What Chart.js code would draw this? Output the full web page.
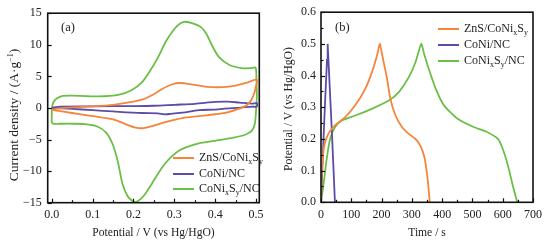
<!DOCTYPE html>
<html>
<head>
<meta charset="utf-8">
<script src="https://cdn.jsdelivr.net/npm/chart.js@4.4.0/dist/chart.umd.min.js"></script>
<style>
  html, body { margin: 0; padding: 0; background: #fff; }
  #wrap { position: relative; width: 549px; height: 244px; font-family: "Liberation Serif", "Times New Roman", serif; color: #222; }
  canvas { position: absolute; top: 0; }
  .row { position: absolute; white-space: nowrap; height: 14px; line-height: 14px; font-size: 12px; }
  .row i { display: inline-block; width: 21px; height: 2px; vertical-align: middle; margin-right: 5px; }
  .row sub { font-size: 8px; vertical-align: -3px; line-height: 0; }
  .panel { position: absolute; font-size: 12.5px; }
  .ytitle { position: absolute; white-space: nowrap; transform: translate(-50%, -50%) rotate(-90deg); line-height: 1; }
  .ytitle sup { font-size: 8px; vertical-align: 5px; line-height: 0; }
</style>
</head>
<body>
<div id="wrap">
  <canvas id="cv-chart" width="275" height="244" style="left:0"></canvas>
  <canvas id="gcd-chart" width="274" height="244" style="left:275px"></canvas>
  <div class="ytitle" style="left:14px;top:115px;font-size:13.5px">Current density / (A·g<sup>−1</sup>)</div>
  <div class="ytitle" style="left:289px;top:109px;font-size:11.8px">Potential / V (vs Hg/HgO)</div>
  <div class="panel" style="left:61px;top:20px">(a)</div>
  <div class="panel" style="left:335px;top:20px">(b)</div>
  <div class="row" style="left:173px;top:150px"><i style="background:#f5853b"></i>ZnS/CoNi<sub>x</sub>S<sub>y</sub></div>
  <div class="row" style="left:173px;top:166px"><i style="background:#5b4ca8"></i>CoNi/NC</div>
  <div class="row" style="left:173px;top:181px"><i style="background:#6cbf46"></i>CoNi<sub>x</sub>S<sub>y</sub>/NC</div>
  <div class="row" style="left:438px;top:21px"><i style="background:#f5853b"></i>ZnS/CoNi<sub>x</sub>S<sub>y</sub></div>
  <div class="row" style="left:438px;top:37px"><i style="background:#5b4ca8"></i>CoNi/NC</div>
  <div class="row" style="left:438px;top:53px"><i style="background:#6cbf46"></i>CoNi<sub>x</sub>S<sub>y</sub>/NC</div>
</div>
<script>
// (a) CV curves: potential (V) / current density (A/g), each a closed loop
const cvZnsV = [0.0, 0.02, 0.05, 0.1, 0.15, 0.2, 0.225, 0.245, 0.27, 0.295, 0.315, 0.345, 0.38, 0.42, 0.45, 0.48, 0.502,
  0.499, 0.495, 0.488, 0.476, 0.455, 0.43, 0.40, 0.36, 0.32, 0.28, 0.25, 0.225, 0.205, 0.182, 0.15, 0.1, 0.05, 0.0];
const cvZnsI = [-0.3, -0.05, 0.1, 0.25, 0.5, 1.0, 1.4, 2.0, 3.0, 3.75, 3.95, 3.7, 3.35, 3.3, 3.55, 4.05, 4.5,
  3.2, 2.2, 1.2, 0.4, -0.2, -0.7, -1.0, -1.3, -1.6, -2.2, -2.8, -3.2, -3.1, -2.6, -1.8, -1.3, -0.8, -0.3];

const cvCoNiV = [0.0, 0.02, 0.1, 0.2, 0.25, 0.3, 0.35, 0.4, 0.43, 0.46, 0.49, 0.502, 0.503, 0.501,
  0.49, 0.45, 0.40, 0.36, 0.32, 0.29, 0.275, 0.26, 0.22, 0.15, 0.1, 0.05, 0.0];
const cvCoNiI = [0.0, 0.2, 0.25, 0.3, 0.35, 0.5, 0.65, 0.95, 1.0, 0.85, 0.7, 0.75, 0.5, 0.2,
  0.2, 0.0, -0.25, -0.35, -0.75, -0.95, -1.0, -0.85, -0.8, -0.55, -0.35, -0.15, 0.0];

const cvCoNiSV = [0.0, 0.004, 0.012, 0.027, 0.05, 0.09, 0.13, 0.165, 0.195, 0.22, 0.24, 0.26, 0.28, 0.30, 0.315, 0.328,
  0.345, 0.365, 0.378, 0.393, 0.41, 0.435, 0.465, 0.49, 0.499, 0.501, 0.502, 0.500, 0.497, 0.49, 0.475, 0.445, 0.40,
  0.36, 0.33, 0.31, 0.29, 0.275, 0.26, 0.245, 0.23, 0.218, 0.205, 0.195, 0.185, 0.173, 0.162, 0.15, 0.133, 0.11,
  0.08, 0.05, 0.02, 0.003, 0.0, 0.0, 0.0];
const cvCoNiSI = [0.0, 0.9, 1.5, 1.9, 1.95, 1.85, 1.85, 2.1, 2.8, 4.0, 5.8, 8.0, 10.6, 12.5, 13.4, 13.65,
  13.4, 12.8, 11.8, 9.8, 8.0, 6.8, 6.3, 6.3, 6.4, 4.5, 2.0, -0.5, -2.5, -3.6, -4.2, -4.7, -5.2,
  -5.6, -6.2, -6.8, -7.9, -9.0, -10.4, -12.0, -13.5, -14.4, -14.9, -14.6, -13.9, -12.0, -8.6, -5.9, -3.9, -2.9,
  -2.55, -2.5, -2.5, -2.5, -2.2, -1.0, 0.0];

// (b) GCD curves: time (s) / potential (V)
const gcdZnsT = [0, 2, 5, 11, 24, 46, 80, 113, 146, 168, 185, 194, 200, 207, 218, 229, 246, 268, 290, 312, 330, 342, 350, 355, 359];
const gcdZnsV = [0, 0.08, 0.13, 0.18, 0.216, 0.243, 0.269, 0.306, 0.358, 0.41, 0.463, 0.5, 0.475, 0.442, 0.39, 0.327, 0.274, 0.237, 0.216, 0.2, 0.175, 0.14, 0.09, 0.045, 0];

const gcdCoNiT = [0, 5, 10, 15, 20, 22, 24, 30, 36, 42, 46];
const gcdCoNiV = [0, 0.12, 0.24, 0.35, 0.45, 0.5, 0.46, 0.34, 0.22, 0.09, 0];

const gcdCoNiST = [0, 3, 8, 19, 30, 46, 69, 113, 168, 224, 257, 290, 312, 331, 340, 356, 379, 406, 451, 506, 550, 584, 600, 617, 633, 648];
const gcdCoNiSV = [0, 0.02, 0.054, 0.138, 0.2, 0.237, 0.258, 0.274, 0.295, 0.321, 0.348, 0.395, 0.442, 0.5, 0.47, 0.421, 0.358, 0.306, 0.264, 0.237, 0.221, 0.2, 0.169, 0.117, 0.054, 0];

const seriesNames = ['ZnS/CoNixSy', 'CoNi/NC', 'CoNixSy/NC'];
const seriesColors = ['#f5853b', '#5b4ca8', '#6cbf46'];

const pts = (xs, ys) => xs.map((x, i) => ({ x: x, y: ys[i] }));
const tickFont = { family: 'Liberation Serif', size: 12 };
const titleFont = { family: 'Liberation Serif', size: 11.6 };

// frame round the plot area and small inward ticks on bottom and left
const frameTicks = {
  id: 'frameTicks',
  afterDraw(chart, args, o) {
    const { ctx, chartArea: a, scales } = chart;
    ctx.save();
    ctx.strokeStyle = '#111';
    ctx.lineWidth = 1.2;
    const run = (scale, step, major, horiz) => {
      const first = Math.ceil(scale.min / step - 1e-9);
      const last = Math.floor(scale.max / step + 1e-9);
      for (let k = first; k <= last; k++) {
        const v = k * step;
        const isMajor = Math.abs(v / major - Math.round(v / major)) < 1e-6;
        const len = isMajor ? 4 : 2.5;
        const p = Math.round(scale.getPixelForValue(v)) + 0.5;
        ctx.beginPath();
        if (horiz) { ctx.moveTo(p, a.bottom); ctx.lineTo(p, a.bottom - len); }
        else { ctx.moveTo(a.left, p); ctx.lineTo(a.left + len, p); }
        ctx.stroke();
      }
    };
    run(scales.x, o.xStep, o.xMajor, true);
    run(scales.y, o.yStep, o.yMajor, false);
    ctx.lineWidth = 1.6;
    ctx.strokeRect(a.left, a.top, a.width, a.height);
    ctx.restore();
  }
};

function lineSet(label, data, color, tension) {
  return { label: label, data: data, borderColor: color, backgroundColor: color, borderWidth: 1.8,
    showLine: true, pointRadius: 0, fill: false, tension: tension };
}

function axis(min, max, step, fmt, title, pad, fit) {
  return {
    type: 'linear', min: min, max: max,
    grid: { display: false, drawTicks: false },
    border: { display: false },
    ticks: { stepSize: step, includeBounds: false, font: tickFont, color: '#222', padding: pad, callback: fmt },
    title: { display: !!title, text: title, font: titleFont, color: '#222', padding: 4 },
    afterFit: fit
  };
}

const fmt1 = v => v.toFixed(1);
const fmtInt = v => String(Math.round(v)).replace('-', '\u2212');

new Chart(document.getElementById('cv-chart'), {
  type: 'scatter',
  data: {
    datasets: [
      lineSet(seriesNames[0], pts(cvZnsV, cvZnsI), seriesColors[0], 0.3),
      lineSet(seriesNames[1], pts(cvCoNiV, cvCoNiI), seriesColors[1], 0.3),
      lineSet(seriesNames[2], pts(cvCoNiSV, cvCoNiSI), seriesColors[2], 0.3)
    ]
  },
  options: {
    responsive: false, animation: false, devicePixelRatio: 1,
    layout: { padding: { top: 10.7, right: 15.7, left: 0, bottom: 0 } },
    plugins: { legend: { display: false }, tooltip: { enabled: false },
      frameTicks: { xStep: 0.05, xMajor: 0.1, yStep: 5, yMajor: 5 } },
    scales: {
      x: axis(-0.01, 0.508, 0.1, fmt1, 'Potential / V (vs Hg/HgO)', 5, s => { s.height = 41.3; }),
      y: axis(-15, 15, 5, fmtInt, '', 6, s => { s.width = 47.7; })
    }
  },
  plugins: [frameTicks]
});

new Chart(document.getElementById('gcd-chart'), {
  type: 'scatter',
  data: {
    datasets: [
      lineSet(seriesNames[0], pts(gcdZnsT, gcdZnsV), seriesColors[0], 0.2),
      lineSet(seriesNames[1], pts(gcdCoNiT, gcdCoNiV), seriesColors[1], 0),
      lineSet(seriesNames[2], pts(gcdCoNiST, gcdCoNiSV), seriesColors[2], 0.2)
    ]
  },
  options: {
    responsive: false, animation: false, devicePixelRatio: 1,
    layout: { padding: { top: 11.7, right: 16, left: 0, bottom: 0 } },
    plugins: { legend: { display: false }, tooltip: { enabled: false },
      frameTicks: { xStep: 50, xMajor: 100, yStep: 0.05, yMajor: 0.1 } },
    scales: {
      x: axis(0, 700, 100, v => String(v), 'Time / s', 5, s => { s.height = 41.7; }),
      y: axis(0, 0.6, 0.1, fmt1, '', 5, s => { s.width = 46; })
    }
  },
  plugins: [frameTicks]
});
</script>
</body>
</html>
